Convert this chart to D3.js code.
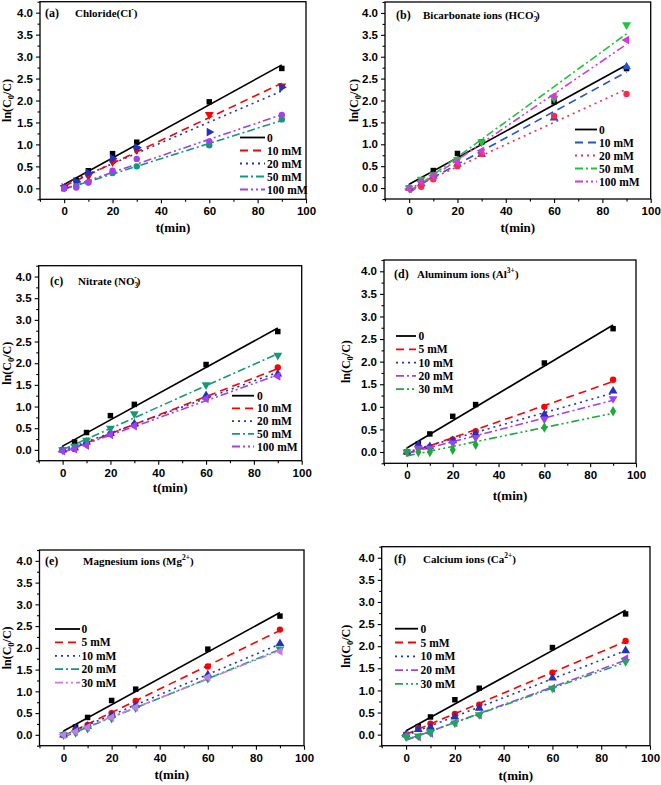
<!DOCTYPE html>
<html><head><meta charset="utf-8">
<script src="https://cdn.jsdelivr.net/npm/d3@7"></script>
<style>body{margin:0;background:#fff} svg{display:block}</style>
</head><body><svg id="c" width="661" height="785"></svg>
<script>
// ---- data ----
const tMin = [0, 5, 10, 20, 30, 60, 90];
const blank = [0, 0.18, 0.40, 0.79, 1.05, 1.97, 2.73];

const cl10 = [0.02, 0.15, 0.28, 0.60, 0.88, 1.68, 2.33];
const cl20 = [0.02, 0.15, 0.35, 0.68, 0.93, 1.28, 2.30];
const cl50 = [0, 0.05, 0.14, 0.35, 0.50, 0.98, 1.57];
const cl100 = [0, 0.02, 0.13, 0.40, 0.67, 1.07, 1.67];

const hc10 = [0, 0.10, 0.27, 0.55, 0.77, 1.60, 2.77];
const hc20 = [0, 0.03, 0.20, 0.50, 0.78, 1.65, 2.15];
const hc50 = [0, 0.20, 0.30, 0.65, 1.05, 2.05, 3.73];
const hc100 = [-0.02, 0.15, 0.28, 0.60, 0.85, 2.10, 3.38];

const no10 = [0, 0.02, 0.15, 0.37, 0.58, 1.20, 1.90];
const no20 = [0, 0.05, 0.18, 0.38, 0.60, 1.25, 1.75];
const no50 = [0, 0.08, 0.22, 0.50, 0.83, 1.50, 2.18];
const no100 = [-0.03, 0.02, 0.10, 0.35, 0.55, 1.18, 1.70];

const al5 = [0, 0.10, 0.11, 0.28, 0.46, 1.00, 1.60];
const al10 = [0, 0.16, 0.12, 0.25, 0.40, 0.83, 1.35];
const al20 = [0, 0.08, 0.08, 0.20, 0.32, 0.73, 1.18];
const al30 = [0, 0.00, 0.00, 0.05, 0.16, 0.54, 0.90];

const mg5 = [0, 0.12, 0.23, 0.50, 0.78, 1.57, 2.42];
const mg10 = [0, 0.13, 0.20, 0.45, 0.68, 1.38, 2.10];
const mg20 = [0, 0.05, 0.15, 0.38, 0.62, 1.30, 1.97];
const mg30 = [0, 0.07, 0.17, 0.40, 0.63, 1.32, 1.92];

const ca5 = [0, 0.15, 0.25, 0.47, 0.68, 1.40, 2.12];
const ca10 = [0, 0.12, 0.17, 0.40, 0.60, 1.28, 1.90];
const ca20 = [-0.02, -0.05, 0.03, 0.27, 0.44, 1.05, 1.72];
const ca30 = [-0.05, -0.03, 0.05, 0.26, 0.45, 1.05, 1.65];

const anionLabels = ["0", "10 mM", "20 mM", "50 mM", "100 mM"];
const cationLabels = ["0", "5 mM", "10 mM", "20 mM", "30 mM"];
const xTicks = [0, 20, 40, 60, 80, 100];
const xMinor = [-10, 10, 30, 50, 70, 90];
const yTicks = [0, 0.5, 1.0, 1.5, 2.0, 2.5, 3.0, 3.5, 4.0];
const yMinor = [-0.25, 0.25, 0.75, 1.25, 1.75, 2.25, 2.75, 3.25, 3.75, 4.25];
const xDomain = [-10, 100];
const yDomain = [-0.25, 4.25];

// ---- styles ----
const DASH = {solid: null, dash: "8,5", dot: "2,4", dashdot: "8,3,2,3", dashdotdot: "8,3,2,3,2,3"};
const MK = {
  square: {t: d3.symbolSquare, r: 0, s: 30},
  circle: {t: d3.symbolCircle, r: 0, s: 32},
  up: {t: d3.symbolTriangle, r: 0, s: 34},
  down: {t: d3.symbolTriangle, r: 180, s: 34},
  left: {t: d3.symbolTriangle, r: -90, s: 34},
  right: {t: d3.symbolTriangle, r: 90, s: 34},
  diamond: {t: d3.symbolDiamond, r: 0, s: 32}
};

const panels = [
  {l: 40, r: 306, t: 1.7, b: 199.3, tag: "(a)", tagX: 45, tagY: 17, titleX: 75,
   title: [["Chloride(Cl", ""], ["-", "sup"], [")", ""]],
   ylabDx: 29.5, xlabDy: 32.5,
   legend: {y0: 137.5, dy: 13, x1: 240, x2: 265, tx: 267}, labels: anionLabels,
   series: [
     {v: blank, c: "#000000", d: "solid", m: "square"},
     {v: cl10, c: "#ff0000", d: "dash", m: "down"},
     {v: cl20, c: "#2233bb", d: "dot", m: "right"},
     {v: cl50, c: "#139a74", d: "dashdot", m: "circle"},
     {v: cl100, c: "#a040f0", d: "dashdotdot", m: "circle"}]},
  {l: 385, r: 650.7, t: 2, b: 199, tag: "(b)", tagX: 396, tagY: 19, titleX: 423,
   title: [["Bicarbonate ions (HCO", ""], ["3", "sub"], ["-", "supstack"], [")", ""]],
   ylabDx: 27, xlabDy: 32.5,
   legend: {y0: 129.5, dy: 13, x1: 575, x2: 597, tx: 599}, labels: anionLabels,
   series: [
     {v: blank, c: "#000000", d: "solid", m: "square"},
     {v: hc10, c: "#2255cc", d: "dash", m: "up"},
     {v: hc20, c: "#ff2a4a", d: "dot", m: "circle"},
     {v: hc50, c: "#22c23c", d: "dashdot", m: "down"},
     {v: hc100, c: "#d63ad6", d: "dashdotdot", m: "left"}]},
  {l: 38.7, r: 301.7, t: 265.7, b: 460.7, tag: "(c)", tagX: 50, tagY: 285, titleX: 78,
   title: [["Nitrate (NO", ""], ["3", "sub"], ["-", "supstack"], [")", ""]],
   ylabDx: 28.2, xlabDy: 31,
   legend: {y0: 395.7, dy: 12.7, x1: 232, x2: 254, tx: 257}, labels: anionLabels,
   series: [
     {v: blank, c: "#000000", d: "solid", m: "square"},
     {v: no10, c: "#ff0000", d: "dash", m: "circle"},
     {v: no20, c: "#2233bb", d: "dot", m: "up"},
     {v: no50, c: "#139a74", d: "dashdot", m: "down"},
     {v: no100, c: "#a040f0", d: "dashdotdot", m: "left"}]},
  {l: 384, r: 636, t: 260, b: 463.3, tag: "(d)", tagX: 394, tagY: 278, titleX: 417,
   title: [["Aluminum ions (Al", ""], ["3+", "sup"], [")", ""]],
   ylabDx: 34.5, xlabDy: 36.5,
   legend: {y0: 336, dy: 13.3, x1: 396, x2: 416, tx: 418.5}, labels: cationLabels,
   series: [
     {v: blank, c: "#000000", d: "solid", m: "square"},
     {v: al5, c: "#ff0000", d: "dash", m: "circle"},
     {v: al10, c: "#2233bb", d: "dot", m: "up"},
     {v: al20, c: "#a040f0", d: "dashdot", m: "down"},
     {v: al30, c: "#1aaa3a", d: "dashdotdot", m: "diamond"}]},
  {l: 39.5, r: 304, t: 550, b: 745.7, tag: "(e)", tagX: 45, tagY: 565, titleX: 83,
   title: [["Magnesium ions (Mg", ""], ["2+", "sup"], [")", ""]],
   ylabDx: 29, xlabDy: 33,
   legend: {y0: 629, dy: 13.4, x1: 55, x2: 80, tx: 81.5}, labels: cationLabels,
   series: [
     {v: blank, c: "#000000", d: "solid", m: "square"},
     {v: mg5, c: "#ff0000", d: "dash", m: "circle"},
     {v: mg10, c: "#2233bb", d: "dot", m: "up"},
     {v: mg20, c: "#139a74", d: "dashdot", m: "down"},
     {v: mg30, c: "#c77ae8", d: "dashdotdot", m: "left"}]},
  {l: 381.7, r: 650, t: 546.7, b: 745.7, tag: "(f)", tagX: 394, tagY: 563, titleX: 423,
   title: [["Calcium ions (Ca", ""], ["2+", "sup"], [")", ""]],
   ylabDx: 32.2, xlabDy: 34,
   legend: {y0: 628.7, dy: 13.8, x1: 395, x2: 418, tx: 420.5}, labels: cationLabels,
   series: [
     {v: blank, c: "#000000", d: "solid", m: "square"},
     {v: ca5, c: "#ff0000", d: "dash", m: "circle"},
     {v: ca10, c: "#2233bb", d: "dot", m: "up"},
     {v: ca20, c: "#a040f0", d: "dashdot", m: "left"},
     {v: ca30, c: "#1aaa55", d: "dashdotdot", m: "down"}]}
];

function fit(xs, ys) {
  const n = xs.length, mx = d3.mean(xs), my = d3.mean(ys);
  let sxy = 0, sxx = 0;
  for (let i = 0; i < n; i++) { sxy += (xs[i] - mx) * (ys[i] - my); sxx += (xs[i] - mx) ** 2; }
  const b = sxy / sxx; return {a: my - b * mx, b};
}

const svg = d3.select("#c");
const SERIF = "'Liberation Serif','Times New Roman',serif";
const SANS = "'Liberation Sans',Arial,sans-serif";

panels.forEach(p => {
  const x = d3.scaleLinear().domain(xDomain).range([p.l, p.r]);
  const y = d3.scaleLinear().domain(yDomain).range([p.b, p.t]);
  const g = svg.append("g");

  // axes
  const ax = g.append("g").attr("transform", `translate(0,${p.b})`)
    .call(d3.axisBottom(x).tickValues(xTicks).tickSize(4).tickPadding(4));
  const axm = g.append("g").attr("transform", `translate(0,${p.b})`)
    .call(d3.axisBottom(x).tickValues(xMinor).tickSize(2.5).tickFormat(""));
  const ay = g.append("g").attr("transform", `translate(${p.l},0)`)
    .call(d3.axisLeft(y).tickValues(yTicks).tickFormat(d3.format(".1f")).tickSize(4).tickPadding(3));
  const aym = g.append("g").attr("transform", `translate(${p.l},0)`)
    .call(d3.axisLeft(y).tickValues(yMinor).tickSize(2.5).tickFormat(""));
  [ax, axm, ay, aym].forEach(a => {
    a.select(".domain").remove();
    a.selectAll("line").attr("stroke", "#000").attr("stroke-width", 1.1);
    a.selectAll("text").attr("font-family", SANS).attr("font-weight", "bold")
      .attr("font-size", 11.5).attr("fill", "#000");
  });

  g.append("rect").attr("x", p.l).attr("y", p.t).attr("width", p.r - p.l).attr("height", p.b - p.t)
    .attr("fill", "none").attr("stroke", "#000").attr("stroke-width", 1.3);

  // axis labels
  g.append("text").attr("x", (p.l + p.r) / 2).attr("y", p.b + p.xlabDy)
    .attr("text-anchor", "middle").attr("font-family", SERIF).attr("font-weight", "bold")
    .attr("font-size", 13).text("t(min)");
  const yl = g.append("text").attr("transform", `translate(${p.l - p.ylabDx},${(p.t + p.b) / 2}) rotate(-90)`)
    .attr("text-anchor", "middle").attr("font-family", SERIF).attr("font-weight", "bold")
    .attr("font-size", 12);
  yl.append("tspan").text("ln(C");
  yl.append("tspan").attr("font-size", 8.5).attr("dy", 3).text("0");
  yl.append("tspan").attr("dy", -3).text("/C)");

  // title
  g.append("text").attr("x", p.tagX).attr("y", p.tagY).attr("font-family", SERIF)
    .attr("font-weight", "bold").attr("font-size", 12).text(p.tag);
  const tt = g.append("text").attr("x", p.titleX).attr("y", p.tagY).attr("font-family", SERIF)
    .attr("font-weight", "bold").attr("font-size", 11);
  let shift = 0;
  p.title.forEach(([s, kind]) => {
    const ts = tt.append("tspan").text(s);
    if (kind === "sup") { ts.attr("font-size", 7.5).attr("dy", -5 - shift); shift = -5; }
    else if (kind === "sub") { ts.attr("font-size", 7.5).attr("dy", 3 - shift); shift = 3; }
    else if (kind === "supstack") { ts.attr("font-size", 7.5).attr("dx", -4).attr("dy", -8); shift = -5; }
    else { ts.attr("dy", -shift); shift = 0; }
  });

  // series
  p.series.forEach(s => {
    const f = fit(tMin, s.v);
    g.append("line").attr("x1", x(0)).attr("y1", y(f.a)).attr("x2", x(90)).attr("y2", y(f.a + f.b * 90))
      .attr("stroke", s.c).attr("stroke-width", 1.6).attr("stroke-dasharray", DASH[s.d]);
  });
  p.series.forEach(s => {
    const mk = MK[s.m];
    g.append("g").selectAll("path").data(tMin.map((t, i) => [t, s.v[i]])).join("path")
      .attr("d", d3.symbol().type(mk.t).size(mk.s))
      .attr("transform", d => `translate(${x(d[0])},${y(d[1])}) rotate(${mk.r})`)
      .attr("fill", s.c);
  });

  // legend
  const L = p.legend;
  p.series.forEach((s, i) => {
    const yy = L.y0 + i * L.dy;
    g.append("line").attr("x1", L.x1).attr("x2", L.x2).attr("y1", yy).attr("y2", yy)
      .attr("stroke", s.c).attr("stroke-width", 1.8).attr("stroke-dasharray", DASH[s.d]);
    g.append("text").attr("x", L.tx).attr("y", yy + 4).attr("font-family", SERIF)
      .attr("font-weight", "bold").attr("font-size", 11.5).text(p.labels[i]);
  });
});
</script>
</body></html>
